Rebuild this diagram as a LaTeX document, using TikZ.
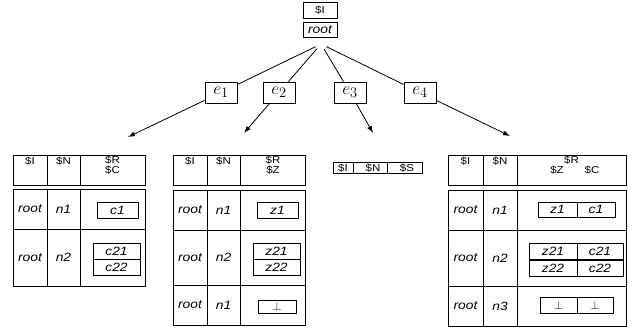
\documentclass[tikz,border=0pt]{standalone}
\usepackage[no-math]{fontspec}
\setmainfont[FakeStretch=1.15]{Liberation Sans}
\usepackage{amsmath,amssymb}
\usetikzlibrary{arrows.meta}

\tikzset{
  hd/.style={inner sep=0pt, font=\fontsize{10}{10}\selectfont},
  tx/.style={inner sep=0pt, font=\fontsize{12}{12}\selectfont\itshape},
  lbl/.style={draw, minimum width=32pt, minimum height=21pt, inner sep=0pt, font=\fontsize{19}{19}\selectfont},
  topbox/.style={draw, minimum width=34pt, inner sep=0pt},
  inbox/.style={draw, inner sep=0pt, font=\fontsize{12}{12}\selectfont\itshape},
  arr/.style={-{Latex[length=7pt,width=5pt]}},
}

\begin{document}
\begin{tikzpicture}[x=1pt,y=-1pt,line width=0.8pt]
\useasboundingbox (0,0) rectangle (644,329);

% root of the tree
\node[topbox, minimum height=16pt, hd] (top) at (320,10) {\$I};
\node[topbox, minimum height=15pt, tx] (root) at (320,29.5) {root};
\coordinate (fork) at (321,44);

% edge labels
\node[lbl] (e1) at (221,92.5) {$e_1$};
\node[lbl] (e2) at (279,92.5) {$e_2$};
\node[lbl] (e3) at (350,92.5) {$e_3$};
\node[lbl] (e4) at (420,92.5) {$e_4$};

\draw[shorten <=6pt] (fork) -- (e1);
\draw[shorten <=6pt] (fork) -- (e2);
\draw[shorten <=6pt] (fork) -- (e3);
\draw[shorten <=6pt] (fork) -- (e4);

% arrow ends above the tables
\coordinate (t1) at (128,137);
\coordinate (t2) at (244,133);
\coordinate (t3) at (373,133);
\coordinate (t4) at (510,136);
\draw[arr] (e1) -- (t1);
\draw[arr] (e2) -- (t2);
\draw[arr] (e3) -- (t3);
\draw[arr] (e4) -- (t4);

%Table 1: $R with $C
\draw (13,155) rectangle (145,185) (47,155) -- (47,185) (80,155) -- (80,185);
\draw (13,189) rectangle (145,286) (47,189) -- (47,286) (80,189) -- (80,286) (13,229) -- (145,229);
\node[hd] (ai) at (30,161) {\$I};
\node[hd] (an) at (63.5,161) {\$N};
\node[hd] (ar) at (112.5,160) {\$R};
\node[hd] (ac) at (112.5,170) {\$C};
\node[tx] (ar1) at (30,209) {root};
\node[tx] (an1) at (63.5,209) {n1};
\node[tx] (ar2) at (30,257.5) {root};
\node[tx] (an2) at (63.5,257.5) {n2};
\node[inbox, minimum width=41pt, minimum height=16pt] (ac1) at (117.5,210) {c1};
\node[inbox, minimum width=47pt, minimum height=16pt] (ac21) at (116.5,251) {c21};
\node[inbox, minimum width=47pt, minimum height=16pt] (ac22) at (116.5,267) {c22};

%Table 2: $R with $Z
\draw (173,155) rectangle (305,185) (207,155) -- (207,185) (240,155) -- (240,185);
\draw (173,190) rectangle (305,325) (207,190) -- (207,325) (240,190) -- (240,325)
      (173,230) -- (305,230) (173,285) -- (305,285);
\node[hd] (bi) at (190,161) {\$I};
\node[hd] (bn) at (223.5,161) {\$N};
\node[hd] (br) at (273,160) {\$R};
\node[hd] (bz) at (273,170) {\$Z};
\node[tx] (br1) at (190,210) {root};
\node[tx] (bn1) at (223.5,210) {n1};
\node[tx] (br2) at (190,257.5) {root};
\node[tx] (bn2) at (223.5,257.5) {n2};
\node[tx] (br3) at (190,305) {root};
\node[tx] (bn3) at (223.5,305) {n1};
\node[inbox, minimum width=41pt, minimum height=16pt] (bz1) at (277.5,210) {z1};
\node[inbox, minimum width=47pt, minimum height=16pt] (bz21) at (276.5,251) {z21};
\node[inbox, minimum width=47pt, minimum height=16pt] (bz22) at (276.5,267) {z22};
\node[inbox, minimum width=38pt, minimum height=13pt] (bbot) at (277,306.5) {$\perp$};

%Table 3: $S
\draw (333,162) rectangle (422,173.5) (353,162) -- (353,173.5) (387,162) -- (387,173.5);
\node[hd] (ci) at (343,168) {\$I};
\node[hd] (cn) at (373,168) {\$N};
\node[hd] (cs) at (407,168) {\$S};

%Table 4: $R with $Z and $C
\draw (448,155) rectangle (626,185) (483,155) -- (483,185) (517,155) -- (517,185);
\draw (448,190) rectangle (626,326) (483,190) -- (483,326) (517,190) -- (517,326)
      (448,230) -- (626,230) (448,286) -- (626,286);
\node[hd] (di) at (465.5,161) {\$I};
\node[hd] (dn) at (500,161) {\$N};
\node[hd] (dr) at (571.5,160) {\$R};
\node[hd] (dz) at (557,170) {\$Z};
\node[hd] (dc) at (592,170) {\$C};
\node[tx] (dr1) at (465.5,210) {root};
\node[tx] (dn1) at (500,210) {n1};
\node[tx] (dr2) at (465.5,258) {root};
\node[tx] (dn2) at (500,258) {n2};
\node[tx] (dr3) at (465.5,306) {root};
\node[tx] (dn3) at (500,306) {n3};
\node[inbox, minimum width=39pt, minimum height=15pt] (dz1) at (557.5,209.5) {z1};
\node[inbox, minimum width=38pt, minimum height=15pt] (dc1) at (596,209.5) {c1};
\node[inbox, minimum width=48pt, minimum height=16.5pt] (dz21) at (553,251.5) {z21};
\node[inbox, minimum width=46pt, minimum height=16.5pt] (dc21) at (600,251.5) {c21};
\node[inbox, minimum width=48pt, minimum height=16pt] (dz22) at (553,268) {z22};
\node[inbox, minimum width=46pt, minimum height=16pt] (dc22) at (600,268) {c22};
\node[inbox, minimum width=37pt, minimum height=16pt] (dzb) at (558.5,305) {$\perp$};
\node[inbox, minimum width=36pt, minimum height=16pt] (dcb) at (595,305) {$\perp$};

\end{tikzpicture}
\end{document}
